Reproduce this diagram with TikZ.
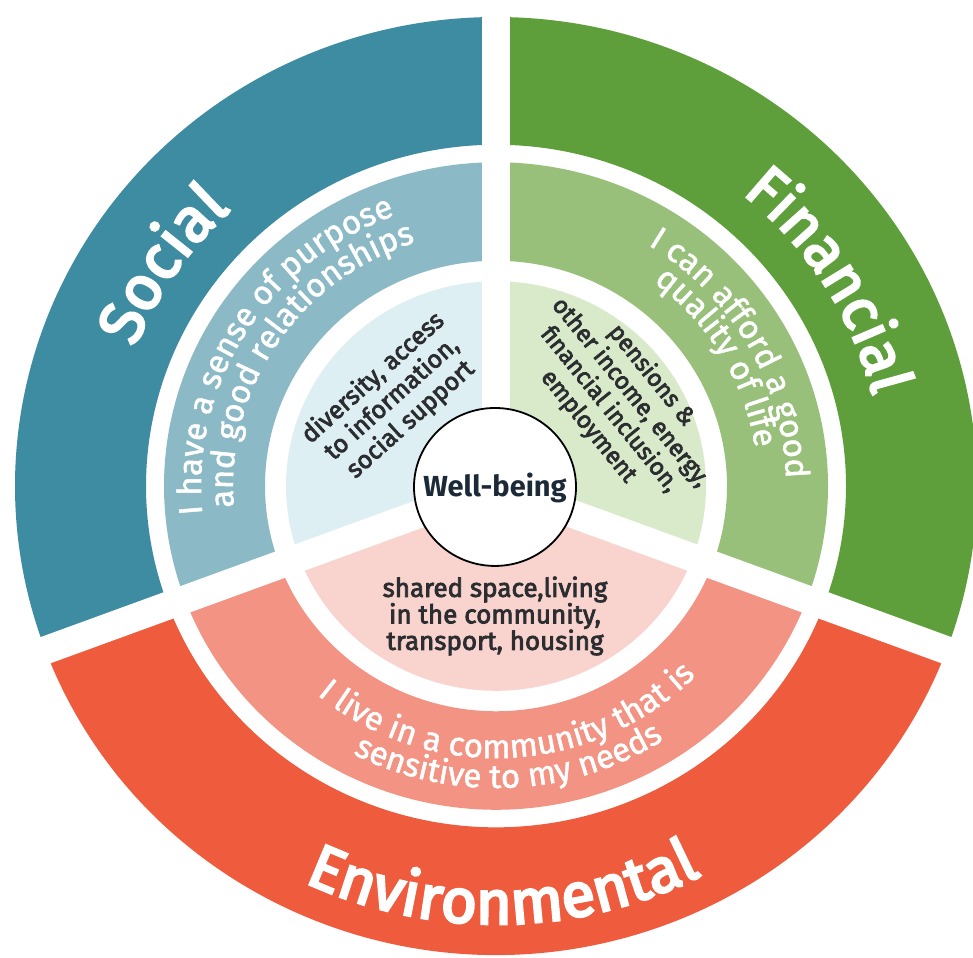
\documentclass[tikz,border=0pt]{standalone}
\usepackage{fontspec}
\setmainfont{Fira Sans}
\newfontfamily\medfont[FakeBold=4]{Fira Sans}
\newfontfamily\midfont[FakeBold=1.5]{Fira Sans}
\newfontfamily\semifont[FakeBold=3]{Fira Sans}
\usetikzlibrary{decorations.text,calc}
\definecolor{socA}{HTML}{3E8CA1}
\definecolor{socB}{HTML}{8BB9C5}
\definecolor{socC}{HTML}{DDEFF3}
\definecolor{finA}{HTML}{5E9F3B}
\definecolor{finB}{HTML}{98C07B}
\definecolor{finC}{HTML}{D9EACB}
\definecolor{envA}{HTML}{EF5B3D}
\definecolor{envB}{HTML}{F39383}
\definecolor{envC}{HTML}{F9D4CE}
\definecolor{inktext}{HTML}{2B2D30}
\definecolor{wbtext}{HTML}{1C2A38}
\newcommand\ringpart[5]{\fill[#1] (#2:#5) arc[start angle=#2,end angle=#3,radius=#5] -- (#3:#4) arc[start angle=#3,end angle=#2,radius=#4] -- cycle;}
\newcommand\piepart[4]{\fill[#1] (0,0) -- (#2:#4) arc[start angle=#2,end angle=#3,radius=#4] -- cycle;}
\tikzset{
  innertext/.style={text=inktext,align=center,inner sep=0pt,font=\semifont\fontsize{25}{28}\selectfont},
  gapline/.style={white,line width=28pt},
}
\begin{document}
\begin{tikzpicture}[x=1pt,y=1pt]
\useasboundingbox (0,0) rectangle (973,957);
\fill[white] (0,0) rectangle (973,957);
\coordinate (C) at (496,471);
\begin{scope}[shift={(C)},yscale=0.975]
  % outer ring
  \ringpart{finA}{-20}{90}{350}{481}
  \ringpart{socA}{90}{200}{350}{481}
  \ringpart{envA}{200}{340}{350}{481}
  % middle ring
  \ringpart{finB}{-20}{90}{231}{332}
  \ringpart{socB}{90}{200}{231}{332}
  \ringpart{envB}{200}{340}{231}{332}
  % inner ring
  \piepart{finC}{-20}{90}{210}
  \piepart{socC}{90}{200}{210}
  \piepart{envC}{200}{340}{210}
  % gaps between sectors
  \coordinate (o) at (0,0);
  \coordinate (g1) at (90:500);
  \coordinate (g2) at (200.5:500);
  \coordinate (g3) at (339.5:500);
  \draw[gapline] (o) -- (g1);
  \draw[gapline] (o) -- (g2);
  \draw[gapline] (o) -- (g3);
  % centre
  \coordinate (wc) at (-1,-1);
  \filldraw[fill=white,draw=black,line width=1.8pt] (wc) circle[radius=81];
\end{scope}
\node[text=wbtext,inner sep=0pt,font=\bfseries\fontsize{29}{29}\selectfont] (wb) at ($(C)+(-1,-2)$) {Well-being};
% titles
\path[decorate,decoration={text along path,text align=center,text color=white,
  text={|\medfont\fontsize{62}{62}\selectfont|Social}}]
  ($(C)+(181:388 and 378)$) arc[start angle=181,end angle=111,x radius=388,y radius=378];
\path[decorate,decoration={text along path,text align=center,text color=white,
  text={|\medfont\fontsize{60}{60}\selectfont|Financial}}]
  ($(C)+(72:388 and 378)$) arc[start angle=72,end angle=-8,x radius=388,y radius=378];
\path[decorate,decoration={text along path,text align=center,text color=white,
  text={|\medfont\fontsize{62}{62}\selectfont|Environmental}}]
  ($(C)+(211:449 and 438)$) arc[start angle=211,end angle=331,x radius=449,y radius=438];
% middle ring texts
\path[decorate,decoration={text along path,text align=center,text color=white,
  text={|\midfont\fontsize{33}{33}\selectfont|I have a sense of purpose}}]
  ($(C)+(203:295 and 288)$) arc[start angle=203,end angle=93,x radius=295,y radius=288];
\path[decorate,decoration={text along path,text align=center,text color=white,
  text={|\midfont\fontsize{33}{33}\selectfont|and good relationships}}]
  ($(C)+(201.5:263 and 256)$) arc[start angle=201.5,end angle=91.5,x radius=263,y radius=256];
\path[decorate,decoration={text along path,text align=center,text color=white,
  text={|\midfont\fontsize{33}{33}\selectfont|I can afford a good}}]
  ($(C)+(80:290 and 283)$) arc[start angle=80,end angle=-20.6,x radius=290,y radius=283];
\path[decorate,decoration={text along path,text align=center,text color=white,
  text={|\midfont\fontsize{33}{33}\selectfont|quality of life}}]
  ($(C)+(80.5:262 and 255)$) arc[start angle=80.5,end angle=-19.5,x radius=262,y radius=255];
\path[decorate,decoration={text along path,text align=center,text color=white,
  text={|\midfont\fontsize{33}{33}\selectfont|I live in a community that is}}]
  ($(C)+(213:279 and 272)$) arc[start angle=213,end angle=333,x radius=279,y radius=272];
\path[decorate,decoration={text along path,text align=center,text color=white,
  text={|\midfont\fontsize{33}{33}\selectfont|sensitive to my needs}}]
  ($(C)+(212.7:310 and 302)$) arc[start angle=212.7,end angle=332.7,x radius=310,y radius=302];
% inner texts
\node[innertext,rotate=42] (socin) at (392,558) {diversity, access\\to information,\\social support};
\node[innertext,rotate=-51,font=\semifont\fontsize{24}{27}\selectfont] (finin) at (620,556) {pensions \&\\other income, energy,\\financial inclusion,\\employment};
\node[innertext,font=\semifont\fontsize{26}{26.5}\selectfont] (envin) at (495,341) {shared space,living\\in the community,\\transport, housing};
\end{tikzpicture}
\end{document}
